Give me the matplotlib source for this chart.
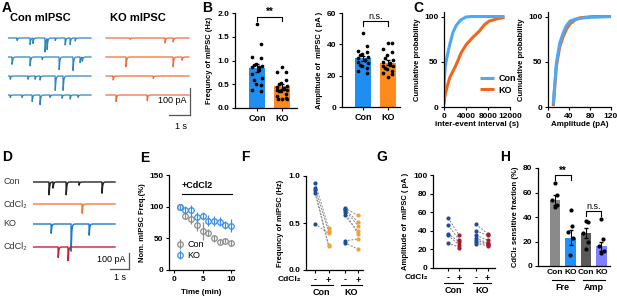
import numpy as np
import matplotlib
matplotlib.use('Agg')
import matplotlib.pyplot as plt

plt.rcParams['font.family'] = ['Liberation Sans', 'DejaVu Sans']
plt.rcParams['font.weight'] = 'bold'
plt.rcParams['axes.labelweight'] = 'bold'
plt.rcParams['axes.linewidth'] = 0.9

BLUE = '#1f8ef1'
ORANGE = '#ff8a1c'
LBLUE = '#4ea8f2'
RORANGE = '#f2651c'
NAVY = '#1f4e96'
DRED = '#a31d2e'
LAB_FS = 5.5

# ---- A: mIPSC sweeps, (event time s, amplitude pA)
con_a_sweeps = [
    [(0.43, 9), (1.06, 24), (1.2, 20), (1.78, 52), (1.88, 41), (2.27, 9), (2.75, 26), (2.99, 24), (3.23, 11)],
    [(0.19, 27), (1.06, 33), (1.64, 9), (2.46, 47), (3.13, 50), (3.47, 21), (3.57, 15)],
    [(0.1, 12), (0.96, 12), (1.3, 12), (1.54, 15), (2.27, 53), (2.65, 53)],
    [(0.1, 9), (0.67, 9), (1.16, 24), (1.54, 36), (2.02, 9), (2.6, 12), (2.99, 15), (3.37, 9)],
]
ko_a_sweeps = [
    [(1.16, 5), (2.84, 18), (3.23, 15)],
    [(0.96, 36), (3.23, 36), (3.66, 12)],
    [(0.34, 15), (2.27, 9)],
    [(0.48, 24), (1.98, 21)],
]

# ---- B: frequency / amplitude
b_groups = ['Con', 'KO']
b_freq_mean = [0.84, 0.46]
b_freq_sem = [0.08, 0.05]
b_freq_con = [1.77, 1.34, 1.07, 1.05, 0.93, 0.90, 0.88, 0.87, 0.86, 0.80, 0.72, 0.63, 0.58, 0.50, 0.49, 0.38, 0.35]
b_freq_ko = [0.87, 0.75, 0.75, 0.60, 0.52, 0.50, 0.46, 0.45, 0.43, 0.40, 0.38, 0.37, 0.36, 0.35, 0.30, 0.25, 0.22, 0.20, 0.20, 0.18]
b_amp_mean = [31.0, 28.2]
b_amp_sem = [1.5, 1.5]
b_amp_con = [47, 39, 36, 35, 34, 33, 32, 31, 30, 30, 29, 28, 27, 26, 25, 23, 22]
b_amp_ko = [41, 41, 37, 35, 33, 31, 30, 29, 28, 27, 26, 26, 25, 24, 23, 22, 21, 19]

# ---- C: cumulative distributions
c_iei_con_x = [0, 50, 240, 500, 720, 1000, 1600, 2200, 3000, 4000, 5000, 11000]
c_iei_con_y = [5, 30, 45, 54, 60, 68, 82, 90, 96, 99.5, 100, 100]
c_iei_ko_x = [0, 100, 420, 1020, 2230, 3130, 4040, 5240, 6450, 7350, 8250, 10000, 11000]
c_iei_ko_y = [3, 10, 19, 32, 47, 60, 69, 77, 84, 91, 95, 98, 99]
c_amp_con_x = [10, 16, 22.5, 29, 35, 42, 51, 74, 120]
c_amp_con_y = [3, 49, 71, 82, 90, 95, 97, 99, 100]
c_amp_ko_x = [10, 16, 22.5, 29, 35, 42, 51, 60, 85, 120]
c_amp_ko_y = [1, 45, 67, 78, 86, 92, 96, 98.5, 100, 100]

# ---- D: example sweeps
d_labels = ['Con', 'CdCl₂', 'KO', 'CdCl₂']
d_colors = ['#222222', '#f07a35', '#1f77c8', '#d01c3a']
d_sweeps = [
    [(0.84, 80), (1.05, 38), (1.74, 80), (2.42, 20), (3.63, 70)],
    [(2.58, 58)],
    [(0.95, 58), (2.0, 170), (2.95, 70)],
    [(1.32, 65), (1.84, 85)],
]

# ---- E: normalised frequency time course
e_time = [1, 2, 3, 4, 5, 6, 7, 8, 9, 10]
e_con = [100, 85, 80, 71, 62, 59, 50, 45, 46, 43]
e_con_err = [2, 4, 7, 10, 14, 5, 5, 4, 4, 5]
e_ko = [99, 95, 94, 84, 85, 78, 78, 76, 71, 70]
e_ko_err = [2, 6, 8, 8, 6, 9, 8, 7, 7, 10]

# ---- F / G: paired before/after CdCl2
f_con_minus = [0.93, 0.87, 0.85, 0.82, 0.49]
f_con_plus = [0.45, 0.41, 0.27, 0.26, 0.39]
f_ko_minus = [0.66, 0.65, 0.64, 0.58, 0.31, 0.29, 0.62]
f_ko_plus = [0.58, 0.51, 0.47, 0.41, 0.33, 0.22, 0.38]
g_con_minus = [54, 46, 37, 35, 27]
g_con_plus = [35, 30, 28, 25, 22]
g_ko_minus = [47, 40, 35, 32, 30, 28, 26]
g_ko_plus = [37, 35, 30, 27, 26, 25, 24]

# ---- H: CdCl2 sensitive fraction
h_labels = ['Con', 'KO', 'Con', 'KO']
h_mean = [54, 23, 27, 16]
h_sem = [4, 6, 4, 4]
h_points = [
    [68, 58, 54, 50, 48],
    [46, 33, 28, 23, 9],
    [37, 36, 27, 20, 14],
    [38, 22, 16, 12, 11],
]
h_colors = ['#8a8a8a', '#1e90ff', '#5a5a5a', '#8080ff']

W, H = 617, 297
fig = plt.figure(figsize=(W / 100, H / 100), dpi=100)


def px_ax(left, top, right, bottom):
    return fig.add_axes([left / W, 1 - bottom / H, (right - left) / W, (bottom - top) / H])


def style(ax):
    ax.spines['top'].set_visible(False)
    ax.spines['right'].set_visible(False)
    ax.tick_params(length=2.5, width=0.8, labelsize=6, pad=1.5)


def trace(events, dur=4.0, n=4000, tau_d=0.03, tau_r=0.002):
    t = np.linspace(0, dur, n)
    y = np.zeros_like(t)
    k = np.linspace(0, 0.3, 300)
    peak = np.max(np.exp(-k / tau_d) - np.exp(-k / tau_r))
    for t0, amp in events:
        s = t - t0
        m = s >= 0
        y[m] -= amp * (np.exp(-s[m] / tau_d) - np.exp(-s[m] / tau_r)) / peak
    return t, y


def jitter(n, w=0.22):
    return w * np.sin(np.arange(n) * 2.4)


def letter(x, y, s):
    fig.text(x / W, 1 - y / H, s, fontsize=10, fontweight='bold', va='center', ha='left')


# ================= A
ax = px_ax(8, 25, 195, 130)
ax.set_xlim(0, 187 / 20.75)
ax.set_ylim(-(130 - 38) * 3.7, (38 - 25) * 3.7)
ax.axis('off')
row_off = [0, -70.3, -140.6, -210.9]
ko_start = (106 - 8) / 20.75
for off, ev in zip(row_off, con_a_sweeps):
    t, y = trace(ev)
    ax.plot(t, y + off, color='#2e86c1', lw=0.9)
for off, ev in zip(row_off, ko_a_sweeps):
    t, y = trace(ev)
    ax.plot(t + ko_start, y + off, color='#f26b3a', lw=0.9)
xb = ko_start + 4.05
ax.plot([xb, xb], [-185, -285], color='#555555', lw=0.9)
ax.plot([xb - 1, xb], [-285, -285], color='#555555', lw=0.9)
ax.text(xb - 0.15, -233, '100 pA', fontsize=6.5, fontweight='normal', ha='right', va='center')
ax.text(xb - 0.45, -326, '1 s', fontsize=6.5, fontweight='normal', ha='center', va='center')
fig.text(40 / W, 1 - 18 / H, 'Con mIPSC', fontsize=8, fontweight='bold', ha='center', va='center')
fig.text(138 / W, 1 - 18 / H, 'KO mIPSC', fontsize=8, fontweight='bold', ha='center', va='center')
letter(2, 8, 'A')

# ================= B
xpos = np.arange(len(b_groups))


def bar_panel(ax, means, sems, pts, colors, ylim, yticks, ylabel):
    ax.bar(xpos, means, width=0.62, color=colors, zorder=1)
    ax.errorbar(xpos, means, yerr=sems, fmt='none', ecolor='black', elinewidth=0.8, capsize=1.5, zorder=2)
    for x, p in zip(xpos, pts):
        ax.scatter(x + jitter(len(p)), p, s=7, color='black', zorder=3, linewidths=0)
    ax.set_ylim(*ylim)
    ax.set_yticks(yticks)
    ax.set_xticks(xpos)
    ax.set_xticklabels(b_groups)
    ax.set_ylabel(ylabel, fontsize=LAB_FS, labelpad=3)
    style(ax)
    ax.tick_params(axis='x', labelsize=6.5)


def bracket(ax, x1, x2, y, drop, text, fs=7):
    ax.plot([x1, x1, x2, x2], [y - drop, y, y, y - drop], color='black', lw=0.8, clip_on=False)
    ax.text((x1 + x2) / 2, y, text, ha='center', va='bottom', fontsize=fs,
            fontweight='bold' if text.startswith('*') else 'normal')


ax = px_ax(235, 13, 297, 108)
bar_panel(ax, b_freq_mean, b_freq_sem, [b_freq_con, b_freq_ko], [BLUE, ORANGE], (0, 2.0),
          [0, 0.5, 1.0, 1.5, 2.0], 'Frequncy of mIPSC (Hz)')
ax.set_yticklabels(['0.0', '0.5', '1.0', '1.5', '2.0'])
ax.set_xlim(-0.88, 1.6)
bracket(ax, 0, 1, 1.92, 0.08, '**')

ax = px_ax(342, 13, 400, 107)
bar_panel(ax, b_amp_mean, b_amp_sem, [b_amp_con, b_amp_ko], [BLUE, ORANGE], (0, 60),
          [0, 20, 40, 60], 'Amplitude of  mIPSC ( pA )')
ax.set_xlim(-0.84, 1.48)
bracket(ax, 0, 1, 55, 3, 'n.s.', fs=6.5)
letter(202, 8, 'B')

# ================= C
ax = px_ax(444, 12, 510, 107)
ax.plot(c_iei_ko_x, c_iei_ko_y, color=RORANGE, lw=2.2, label='KO', solid_capstyle='butt')
ax.plot(c_iei_con_x, c_iei_con_y, color=LBLUE, lw=2.2, label='Con', solid_capstyle='butt')
ax.set_xlim(0, 12000)
ax.set_ylim(0, 105)
ax.set_xticks([0, 4000, 8000, 12000])
ax.set_yticks([0, 50, 100])
ax.set_xlabel('inter-event interval (s)', fontsize=LAB_FS + 0.3, labelpad=1)
ax.set_ylabel('Cumulative probability', fontsize=LAB_FS, labelpad=2)
style(ax)
h, l = ax.get_legend_handles_labels()
ax.legend(h[::-1], l[::-1], loc='center left', bbox_to_anchor=(0.42, 0.24), frameon=False,
          fontsize=6.5, handlelength=1.6, handletextpad=0.5, labelspacing=0.3)

ax = px_ax(548, 12, 611, 107)
ax.plot(c_amp_ko_x, c_amp_ko_y, color=RORANGE, lw=2.2, solid_capstyle='butt')
ax.plot(c_amp_con_x, c_amp_con_y, color=LBLUE, lw=2.2, solid_capstyle='butt')
ax.set_xlim(0, 120)
ax.set_ylim(0, 105)
ax.set_xticks([0, 40, 80, 120])
ax.set_yticks([0, 50, 100])
ax.set_xlabel('Amplitude (pA)', fontsize=LAB_FS + 0.3, labelpad=1)
ax.set_ylabel('Cumulative probability', fontsize=LAB_FS, labelpad=2)
style(ax)
letter(413, 8, 'C')

# ================= D
ax = px_ax(33, 170, 135, 285)
ax.set_xlim(0, 102 / 19)
ax.set_ylim(-(285 - 182) * 6.25, (182 - 170) * 6.25)
ax.axis('off')
d_rows_px = [182, 204, 224, 247]
for ypx, ev, col, lab in zip(d_rows_px, d_sweeps, d_colors, d_labels):
    t, y = trace(ev, dur=82 / 19)
    ax.plot(t, y - (ypx - 182) * 6.25, color=col, lw=1.0)
    fig.text(3 / W, 1 - ypx / H, lab, fontsize=6.5, fontweight='normal', color='#333333', va='center')
xb = (129 - 33) / 19
ax.plot([xb, xb], [-(253 - 182) * 6.25, -(269 - 182) * 6.25], color='#555555', lw=0.9)
ax.plot([xb - 1, xb], [-(269 - 182) * 6.25] * 2, color='#555555', lw=0.9)
ax.text(xb - 0.2, -(260 - 182) * 6.25, '100 pA', fontsize=6.5, fontweight='normal', ha='right', va='center')
ax.text(xb - 0.45, -(278 - 182) * 6.25, '1 s', fontsize=6.5, fontweight='normal', ha='center', va='center')
letter(2, 157, 'D')

# ================= E
ax = px_ax(169, 175, 234, 270)
ax.errorbar(e_time, e_con, yerr=e_con_err, fmt='o', mfc='none', mec='#8c8c8c', ecolor='#8c8c8c',
            ms=4, mew=0.9, elinewidth=0.9, capsize=0, label='Con')
ax.errorbar(e_time, e_ko, yerr=e_ko_err, fmt='o', mfc='none', mec='#3a8ee6', ecolor='#3a8ee6',
            ms=4, mew=0.9, elinewidth=0.9, capsize=0, label='KO')
ax.set_xlim(-0.88, 10.5)
ax.set_ylim(0, 150)
ax.set_xticks([0, 5, 10])
ax.set_yticks([0, 50, 100, 150])
ax.set_xlabel('Time (min)', fontsize=LAB_FS + 0.3, labelpad=5)
ax.set_ylabel('Nom. mIPSC Freq.(%)', fontsize=LAB_FS, labelpad=2)
style(ax)
ax.plot([1.4, 10.2], [120, 120], color='black', lw=0.8, clip_on=False)
ax.text(1.4, 134, '+CdCl2', fontsize=6.5, fontweight='bold', va='center')
ax.legend(loc='lower left', bbox_to_anchor=(-0.02, 0.02), frameon=False,
          handletextpad=0.3, labelspacing=0.2, handlelength=1.0, prop={'weight': 'normal', 'size': 6.5})
letter(140, 158, 'E')


# ================= F, G
def paired_panel(ax, pos, groups, cminus, cplus, ylim, yticks, ylabel, ylab_fmt=None):
    for (x0, x1), (mn, pl) in zip(pos, groups):
        for a, b in zip(mn, pl):
            ax.plot([x0, x1], [a, b], ls=(0, (2, 1.5)), color='#888888', lw=0.7, zorder=1)
        ax.scatter([x0] * len(mn), mn, s=9, color=cminus, zorder=2, linewidths=0)
        ax.scatter([x1] * len(pl), pl, s=9, color=cplus, zorder=2, linewidths=0)
    ax.set_ylim(*ylim)
    ax.set_yticks(yticks)
    if ylab_fmt:
        ax.set_yticklabels(ylab_fmt)
    ax.set_ylabel(ylabel, fontsize=LAB_FS, labelpad=3)
    style(ax)
    ticks = [p for pair in pos for p in pair]
    ax.set_xticks(ticks)
    ax.set_xticklabels(['-', '+', '-', '+'], fontsize=6.5)
    tr = ax.get_xaxis_transform()
    ax.text(-0.08, -0.105, 'CdCl₂', transform=ax.transAxes, fontsize=6, ha='right', va='center')
    for (x0, x1), name in zip(pos, ['Con', 'KO']):
        ax.plot([x0 - 0.3, x1 + 0.3], [-0.16, -0.16], color='black', lw=0.8, transform=tr, clip_on=False)
        ax.text((x0 + x1) / 2, -0.24, name, transform=tr, fontsize=6.5, ha='center', va='center')


ax = px_ax(306, 176, 363, 270)
paired_panel(ax, [(0, 1), (2.2, 3.2)], [(f_con_minus, f_con_plus), (f_ko_minus, f_ko_plus)],
             NAVY, '#f5a030', (0, 1.0), [0, 0.5, 1.0], 'Frequncy of mIPSC (Hz)', ['0.0', '0.5', '1.0'])
ax.set_xlim(-0.67, 3.56)
letter(241, 157, 'F')

ax = px_ax(433, 175, 495, 268)
paired_panel(ax, [(0, 1), (2.45, 3.45)], [(g_con_minus, g_con_plus), (g_ko_minus, g_ko_plus)],
             NAVY, DRED, (0, 100), [0, 20, 40, 60, 80, 100], 'Amplitude of  mIPSC ( pA )')
ax.set_xlim(-1.3, 4.1)
letter(376, 157, 'G')

# ================= H
ax = px_ax(538, 168, 610, 266)
hx = np.arange(len(h_labels))
ax.bar(hx, h_mean, width=0.7, color=h_colors, zorder=1)
ax.errorbar(hx, h_mean, yerr=h_sem, fmt='none', ecolor='black', elinewidth=0.8, capsize=1.5, zorder=2)
for x, p in zip(hx, h_points):
    ax.scatter(x + jitter(len(p), 0.18), p, s=9, color='black', zorder=3, linewidths=0)
ax.set_xlim(-1.1, 3.55)
ax.set_ylim(0, 80)
ax.set_yticks([0, 20, 40, 60, 80])
ax.set_xticks(hx)
ax.set_xticklabels(h_labels, fontsize=6.5)
ax.set_ylabel('CdCl₂ sensitive fraction (%)', fontsize=LAB_FS, labelpad=3)
style(ax)
ax.tick_params(axis='x', length=0, pad=2)
tr = ax.get_xaxis_transform()
for (x0, x1), name in zip([(0, 1), (2, 3)], ['Fre', 'Amp']):
    ax.plot([x0 - 0.2, x1 + 0.2], [-0.145, -0.145], color='black', lw=0.8, transform=tr, clip_on=False)
    ax.text((x0 + x1) / 2, -0.215, name, transform=tr, fontsize=6.5, ha='center', va='center')
bracket(ax, 0, 1, 74, 4, '**')
bracket(ax, 2, 3, 45, 4, 'n.s.', fs=6.5)
letter(500, 157, 'H')

fig.savefig('out.png', dpi=100)
